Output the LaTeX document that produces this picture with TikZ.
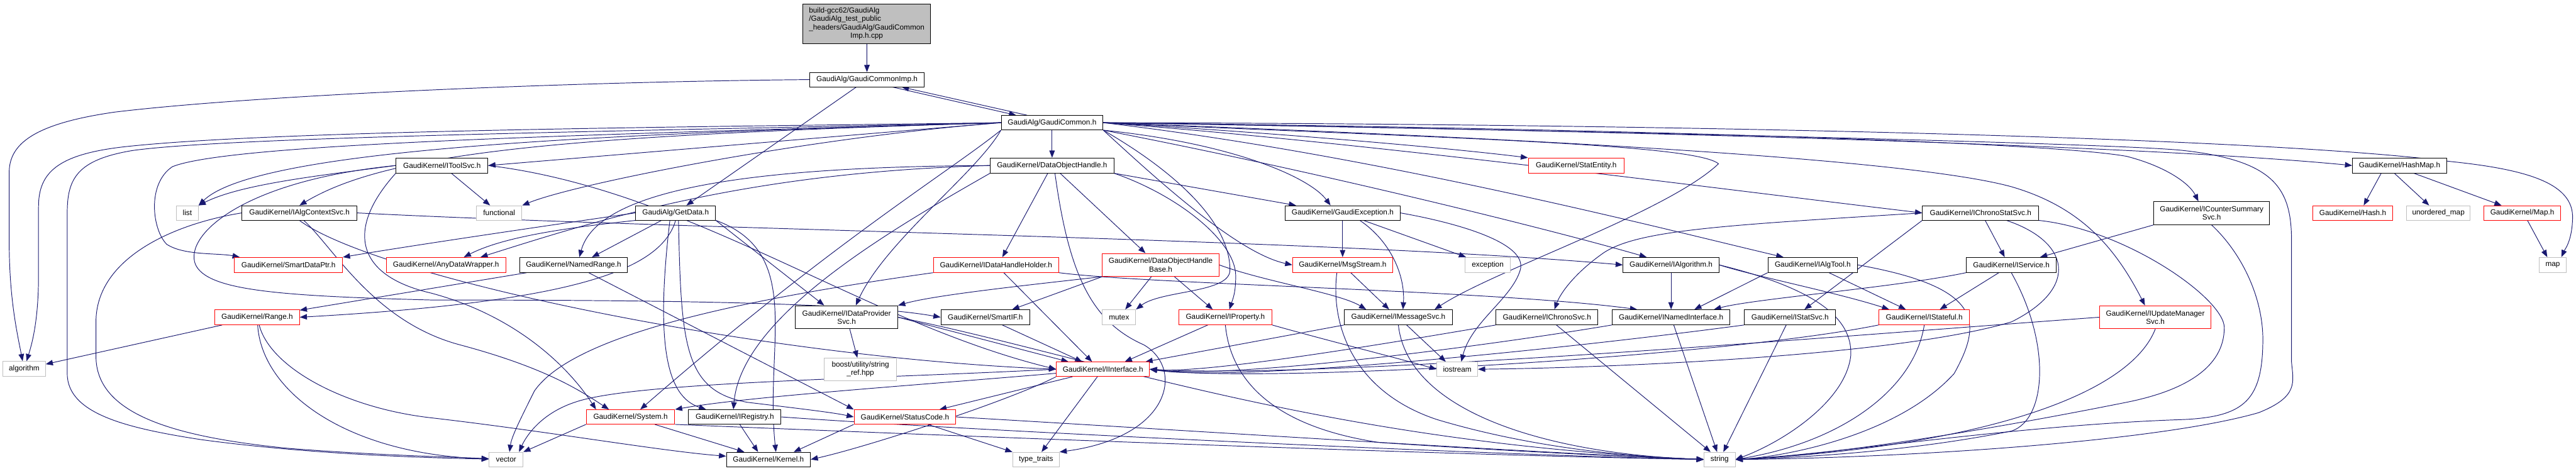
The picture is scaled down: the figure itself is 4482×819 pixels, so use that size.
\documentclass[tikz,border=0pt]{standalone}
\usepackage{fontspec}
\setmainfont{Liberation Sans}
\usetikzlibrary{arrows.meta}
\definecolor{edgec}{HTML}{191970}
\definecolor{greyb}{HTML}{BFBFBF}
\newcommand\fs{\fontsize{7.35}{8.3}\selectfont}
\newcommand\nd[7]{\node[#6,minimum width={(#4-#2)*0.02cm},minimum height={(#5-#3)*0.02cm}] (#1) at ({(#2+#4)/2},{(#3+#5)/2}) {#7};}
\pgfdeclarelayer{bg}
\pgfsetlayers{bg,main}
\tikzset{
  boxk/.style={draw=black,fill=white,line width=0.6pt,inner sep=0pt,font=\fs,align=center,text=black},
  boxr/.style={boxk,draw=red},
  boxg/.style={boxk,draw=greyb},
  boxroot/.style={boxk,fill=greyb},
  e/.style={draw=edgec,line width=0.6pt,-{Triangle[length=0.25cm,width=0.19cm]}}
}
\begin{document}
\begin{tikzpicture}[x=0.02cm,y=-0.02cm]
\useasboundingbox (0,0) rectangle (4482,819);
\nd{src}{1397}{7}{1619}{76}{boxroot}{\begin{tabular}{@{}l@{}}build-gcc62/GaudiAlg\\/GaudiAlg\_test\_public\\\_headers/GaudiAlg/GaudiCommon\\\multicolumn{1}{@{}c@{}}{Imp.h.cpp}\end{tabular}}
\nd{imp}{1409}{126}{1608}{151}{boxk}{GaudiAlg/GaudiCommonImp.h}
\nd{gc}{1742}{201}{1919}{226}{boxk}{GaudiAlg/GaudiCommon.h}
\nd{list}{307}{358}{345}{383}{boxg}{list}
\nd{iacs}{421}{358}{621}{383}{boxk}{GaudiKernel/IAlgContextSvc.h}
\nd{its}{689}{275}{849}{301}{boxk}{GaudiKernel/IToolSvc.h}
\nd{fun}{829}{358}{908}{383}{boxg}{functional}
\nd{gd}{1106}{358}{1245}{383}{boxk}{GaudiAlg/GetData.h}
\nd{doh}{1723}{275}{1938}{301}{boxk}{GaudiKernel/DataObjectHandle.h}
\nd{gex}{2236}{358}{2436}{383}{boxk}{GaudiKernel/GaudiException.h}
\nd{se}{2659}{275}{2826}{301}{boxr}{GaudiKernel/StatEntity.h}
\nd{icss}{3345}{358}{3547}{383}{boxk}{GaudiKernel/IChronoStatSvc.h}
\nd{icsum}{3747}{351}{3949}{391}{boxk}{GaudiKernel/ICounterSummary\\Svc.h}
\nd{hm}{4093}{275}{4257}{301}{boxk}{GaudiKernel/HashMap.h}
\nd{hash}{4024}{358}{4163}{383}{boxr}{GaudiKernel/Hash.h}
\nd{um}{4187}{358}{4298}{383}{boxg}{unordered\_map}
\nd{mp}{4322}{358}{4455}{383}{boxr}{GaudiKernel/Map.h}
\nd{sdp}{408}{448}{596}{474}{boxr}{GaudiKernel/SmartDataPtr.h}
\nd{adw}{672}{448}{880}{474}{boxr}{GaudiKernel/AnyDataWrapper.h}
\nd{rg}{374}{539}{521}{565}{boxr}{GaudiKernel/Range.h}
\nd{alg}{5}{629}{79}{655}{boxg}{algorithm}
\nd{nrg}{904}{448}{1092}{474}{boxk}{GaudiKernel/NamedRange.h}
\nd{idps}{1384}{532}{1562}{572}{boxk}{GaudiKernel/IDataProvider\\Svc.h}
\nd{bsr}{1434}{623}{1560}{662}{boxg}{boost/utility/string\\\_ref.hpp}
\nd{sys}{1020}{713}{1174}{738}{boxr}{GaudiKernel/System.h}
\nd{ireg}{1198}{713}{1359}{738}{boxk}{GaudiKernel/IRegistry.h}
\nd{sc}{1486}{713}{1663}{738}{boxr}{GaudiKernel/StatusCode.h}
\nd{vec}{851}{787}{910}{812}{boxg}{vector}
\nd{ker}{1264}{787}{1410}{812}{boxk}{GaudiKernel/Kernel.h}
\nd{idhh}{1624}{448}{1842}{474}{boxr}{GaudiKernel/IDataHandleHolder.h}
\nd{dohb}{1918}{441}{2121}{481}{boxr}{GaudiKernel/DataObjectHandle\\Base.h}
\nd{ms}{2249}{448}{2423}{474}{boxr}{GaudiKernel/MsgStream.h}
\nd{sif}{1637}{539}{1792}{565}{boxk}{GaudiKernel/SmartIF.h}
\nd{mtx}{1918}{539}{1976}{565}{boxg}{mutex}
\nd{ip}{2051}{539}{2213}{565}{boxr}{GaudiKernel/IProperty.h}
\nd{ii}{1838}{630}{2000}{655}{boxr}{GaudiKernel/IInterface.h}
\nd{tt}{1762}{787}{1843}{812}{boxg}{type\_traits}
\nd{exc}{2549}{448}{2628}{474}{boxg}{exception}
\nd{ialg}{2824}{448}{2991}{474}{boxk}{GaudiKernel/IAlgorithm.h}
\nd{ims}{2339}{539}{2527}{565}{boxk}{GaudiKernel/IMessageSvc.h}
\nd{ios}{2500}{630}{2571}{655}{boxg}{iostream}
\nd{ics}{2603}{539}{2780}{565}{boxk}{GaudiKernel/IChronoSvc.h}
\nd{ini}{2805}{539}{3010}{565}{boxk}{GaudiKernel/INamedInterface.h}
\nd{str}{2965}{787}{3019}{812}{boxg}{string}
\nd{iat}{3076}{448}{3232}{474}{boxk}{GaudiKernel/IAlgTool.h}
\nd{isv}{3421}{448}{3578}{474}{boxk}{GaudiKernel/IService.h}
\nd{iss}{3035}{539}{3194}{565}{boxk}{GaudiKernel/IStatSvc.h}
\nd{istf}{3269}{539}{3427}{565}{boxr}{GaudiKernel/IStateful.h}
\nd{iums}{3653}{532}{3847}{572}{boxr}{GaudiKernel/IUpdateManager\\Svc.h}
\nd{map}{4418}{448}{4465}{474}{boxg}{map}
\begin{pgfonlayer}{bg}
% top
\draw[e] (src) -- (imp);
\draw[e] ([xshift=0.89cm]imp.south) -- ([xshift=-1.25cm]gc.north);
\draw[e] ([xshift=-0.87cm]gc.north) -- ([xshift=1.21cm]imp.south);
\draw[e] (imp) -- (gd);
\draw[e] (imp.west) .. controls (1000,142) and (450,165) .. (200,195) .. controls (60,215) and (16,250) .. (16,300) -- (16,420) .. controls (16,520) and (30,580) .. (alg);
% left side
\draw[e] (gc.west) .. controls (1300,220) and (500,225) .. (220,255) .. controls (100,268) and (67,300) .. (67,360) -- (67,480) .. controls (67,560) and (55,600) .. (alg);
\draw[e] (rg) -- (alg);
\draw[e] (gc.west) .. controls (1100,228) and (400,238) .. (230,262) .. controls (135,278) and (117,310) .. (117,370) -- (117,650) .. controls (117,720) and (220,745) .. (350,765) .. controls (550,792) and (760,797) .. (vec);
\draw[e] (iacs.west) .. controls (300,390) and (167,450) .. (167,560) -- (167,620) .. controls (167,720) and (300,760) .. (500,780) .. controls (650,792) and (780,795) .. (vec);
\draw[e] (rg) .. controls (455,680) and (600,790) .. (vec);
\draw[e] (rg) .. controls (470,640) and (600,710) .. (750,727) .. controls (950,750) and (1150,785) .. (ker);
\draw[e] (nrg) -- (rg);
\draw[e] (gd.south) .. controls (1150,470) and (1000,525) .. (rg.east);
\draw[e] (gc.west) .. controls (1100,232) and (450,255) .. (list.north east);
\draw[e] (its.west) .. controls (560,305) and (420,320) .. (list.north east);
\draw[e] (its.west) .. controls (420,315) and (320,410) .. (340,460) .. controls (360,505) and (480,515) .. (750,522) .. controls (1200,522) and (1500,528) .. (sif.west);
\draw[e] (gc.west) .. controls (1000,236) and (680,262) .. (iacs.north);
\draw[e] (gc.west) -- (its.east);
\draw[e] (its) -- (fun);
\draw[e] (gc.west) .. controls (1400,240) and (1000,320) .. (fun.north east);
\draw[e] (its.south west) .. controls (600,400) and (620,480) .. (750,510) .. controls (900,550) and (990,640) .. ([xshift=-1.2cm]sys.north);
\draw[e] (iacs.-60) .. controls (580,430) and (650,560) .. (800,600) .. controls (950,640) and (1010,680) .. ([xshift=-0.75cm]sys.north);
\draw[e] (gc.south west) .. controls (1650,300) and (1450,420) .. ([xshift=0.34cm]sys.north);
\draw[e] (ii) .. controls (1600,670) and (1300,690) .. (sys.north east);
\draw[e] (gc.west) .. controls (1000,235) and (400,250) .. (300,290) .. controls (255,320) and (265,400) .. (290,425) .. controls (320,445) and (380,440) .. ([xshift=-1.7cm]sdp.north);
\draw[e] (gd.west) .. controls (900,400) and (700,430) .. (sdp.north east);
\draw[e] (gd.south west) .. controls (1000,395) and (880,410) .. ([xshift=0.62cm]adw.north);
\draw[e] (doh.west) .. controls (1300,300) and (1050,380) .. ([xshift=1.2cm]adw.north);
\draw[e] (gd) -- ([xshift=0.64cm]nrg.north);
\draw[e] (doh.west) .. controls (1300,290) and (1040,330) .. ([xshift=0.2cm]nrg.north);
\draw[e] (nrg) -- (sc.north west);
\draw[e] ([xshift=0.1cm]gd.south) .. controls (1185,600) and (1190,680) .. (1300,700) .. controls (1400,712) and (1450,718) .. (sc.west);
\draw[e] ([xshift=-0.2cm]gd.south) .. controls (1140,600) and (1160,690) .. ([xshift=-1.0cm]ireg.north);
\draw[e] (gd.south east) .. controls (1400,440) and (1330,600) .. ([xshift=0.26cm]ker.north);
\draw[e] (doh.south west) .. controls (1550,400) and (1290,550) .. ([xshift=-0.05cm]ireg.north);
% middle
\draw[e] (idhh) -- ([xshift=-0.38cm]ii.north);
\draw[e] (idhh.south east) .. controls (2000,495) and (2600,505) .. ([xshift=-1.18cm]ini.north);
\draw[e] (idhh.south west) .. controls (1300,520) and (1000,580) .. (930,680) .. controls (905,730) and (890,760) .. ([xshift=0.12cm]vec.north);
\draw[e] (ii.west) .. controls (1500,660) and (1100,665) .. (1000,700) .. controls (940,720) and (915,760) .. ([xshift=0.45cm]vec.north);
\draw[e] (sys.south west) -- (vec.north east);
\draw[e] (sys) -- ([xshift=-0.84cm]ker.north);
\draw[e] (ireg) -- ([xshift=-0.36cm]ker.north);
\draw[e] (sc.south west) -- ([xshift=0.88cm]ker.north);
\draw[e] (ii.south west) .. controls (1750,700) and (1500,780) .. (ker.east);
\draw[e] (sc) -- (tt.north west);
\draw[e] (ii) -- (tt);
\draw[e] ([xshift=0.1cm]doh.south) .. controls (1860,480) and (1900,560) .. (1990,600) .. controls (2060,640) and (2040,760) .. (tt.north east);
\draw[e] (ii) -- ([xshift=1.2cm]sc.north);
\draw[e] (ip) -- ([xshift=0.76cm]ii.north);
\draw[e] (sif) -- ([xshift=-0.72cm]ii.north);
\draw[e] (idps.east) -- ([xshift=-1.2cm]ii.north);
\draw[e] (ims.south west) -- ([xshift=1.48cm]ii.north);
\draw[e] (ics.south west) .. controls (2400,600) and (2100,650) .. (ii.east);
\draw[e] (ini.south west) .. controls (2600,600) and (2150,660) .. (ii.east);
\draw[e] (iss.south west) .. controls (2700,610) and (2150,665) .. (ii.east);
\draw[e] (istf.south west) .. controls (3000,620) and (2200,668) .. (ii.east);
\draw[e] (iums.west) .. controls (3200,585) and (2300,660) .. (ii.east);
\draw[e] (its.east) .. controls (1200,330) and (1500,560) .. (ii.west);
\draw[e] (iacs.south) .. controls (650,480) and (1300,620) .. (ii.west);
% to string
\draw[e] (sc.east) .. controls (2000,745) and (2700,790) .. (str.west);
\draw[e] (sys.south east) .. controls (1500,752) and (2500,792) .. (str.west);
\draw[e] (ireg.east) .. controls (1700,750) and (2600,792) .. (str.west);
\draw[e] (idps.east) .. controls (1900,620) and (2300,770) .. (str.west);
\draw[e] (ip.south) .. controls (2140,650) and (2200,740) .. (2400,770) .. controls (2700,790) and (2900,797) .. (str.west);
\draw[e] ([xshift=-0.2cm]ms.south) .. controls (2315,560) and (2350,680) .. (2500,730) .. controls (2700,790) and (2900,797) .. (str.west);
\draw[e] (ims.south) .. controls (2450,720) and (2700,790) .. (str.west);
\draw[e] (ics) -- (str);
\draw[e] (ini) -- (str);
\draw[e] (iss) -- (str);
\draw[e] (istf.south) .. controls (3330,680) and (3200,770) .. (str.east);
\draw[e] (iat.east) .. controls (3450,500) and (3450,560) .. (3400,650) .. controls (3300,760) and (3100,795) .. (str.east);
\draw[e] (isv.south) .. controls (3570,600) and (3560,730) .. (3500,750) .. controls (3300,790) and (3100,797) .. (str.east);
\draw[e] (ialg.east) .. controls (3150,500) and (3225,550) .. (3220,620) .. controls (3210,700) and (3100,770) .. (str.east);
\draw[e] (iums.south) .. controls (3700,700) and (3400,780) .. (str.east);
\draw[e] (icsum.south) .. controls (3900,440) and (3940,520) .. (3937,600) .. controls (3935,700) and (3900,725) .. (3800,730) .. controls (3500,740) and (3200,790) .. (str.east);
\draw[e] (icss.south east) .. controls (3700,400) and (3870,520) .. (3870,570) .. controls (3870,640) and (3800,680) .. (3700,700) .. controls (3400,760) and (3150,795) .. (str.east);
\draw[e] (gc.east) .. controls (2800,228) and (3700,250) .. (3800,262) .. controls (3960,280) and (3987,330) .. (3987,420) -- (3987,630) .. controls (3990,665) and (4000,690) .. (3930,718) .. controls (3750,770) and (3300,797) .. (str.east);
% interfaces
\draw[e] (ialg) -- (ini);
\draw[e] (ialg.east) .. controls (3050,480) and (3200,510) .. ([xshift=-1.22cm]istf.north);
\draw[e] (iat.south west) -- ([xshift=0.81cm]ini.north);
\draw[e] (isv.south west) .. controls (3300,500) and (3050,520) .. ([xshift=1.49cm]ini.north);
\draw[e] (isv) -- ([xshift=0.54cm]istf.north);
\draw[e] (iat) -- ([xshift=-0.64cm]istf.north);
\draw[e] ([xshift=0.16cm]icss.south) -- ([xshift=-0.23cm]isv.north);
\draw[e] (icsum.south west) -- ([xshift=1.0cm]isv.north);
\draw[e] (icss.south west) -- ([xshift=0.5cm]iss.north);
\draw[e] (icss.west) .. controls (3000,392) and (2850,400) .. (2790,440) .. controls (2740,475) and (2715,510) .. ([xshift=0.26cm]ics.north);
\draw[e] (iacs.east) .. controls (1200,400) and (2300,415) .. (ialg.west);
\draw[e] (gc.south east) .. controls (2300,300) and (2700,400) .. ([xshift=-0.85cm]ialg.north);
\draw[e] (gc.east) .. controls (2400,270) and (2900,400) .. ([xshift=-1.02cm]iat.north);
\draw[e] (gc.east) .. controls (2500,240) and (2950,250) .. (2990,285) .. controls (2900,370) and (2600,470) .. ([xshift=1.26cm]ims.north);
\draw[e] (gc.south east) .. controls (2000,300) and (2150,440) .. (ms.west);
\draw[e] (gc.south east) .. controls (2030,290) and (2140,380) .. (2140,470) .. controls (2140,510) and (2020,505) .. (mtx.north east);
\draw[e] (doh.south east) .. controls (2050,340) and (2150,420) .. (2150,480) .. controls (2150,510) and (2145,520) .. ([xshift=0.14cm]ip.north);
\draw[e] (dohb) -- ([xshift=-0.44cm]ip.north);
\draw[e] (dohb) -- (mtx);
\draw[e] (dohb.south west) -- ([xshift=0.93cm]sif.north);
\draw[e] (dohb.south west) .. controls (1750,500) and (1620,515) .. (idps.north east);
\draw[e] (dohb.east) .. controls (2200,490) and (2330,510) .. ([xshift=-1.12cm]ims.north);
\draw[e] ([xshift=-0.15cm]doh.south) -- ([xshift=0.22cm]idhh.north);
\draw[e] ([xshift=0.28cm]doh.south) -- ([xshift=-0.53cm]dohb.north);
\draw[e] (doh.south east) -- ([xshift=-1.62cm]gex.north);
\draw[e] (gc.south east) .. controls (2150,250) and (2280,310) .. ([xshift=-0.42cm]gex.north);
\draw[e] (gc) -- (doh);
\draw[e] (gc.east) .. controls (2200,230) and (2500,255) .. (se.north west);
\draw[e] (gc.east) .. controls (2400,250) and (3000,330) .. (icss.west);
\draw[e] (gc.east) .. controls (2700,222) and (3550,245) .. (3700,272) .. controls (3770,290) and (3810,320) .. ([xshift=-0.46cm]icsum.north);
\draw[e] (gc.east) .. controls (2700,225) and (3700,250) .. (hm.west);
\draw[e] (gc.east) .. controls (2800,215) and (3900,235) .. (4263,281) .. controls (4400,295) and (4478,320) .. (4476,380) .. controls (4475,420) and (4462,435) .. ([xshift=0.3cm]map.north);
\draw[e] (gc.east) .. controls (2500,235) and (3300,270) .. (3500,325) .. controls (3620,360) and (3680,430) .. ([xshift=-0.36cm]iums.north);
\draw[e] ([xshift=-0.64cm]hm.south) -- ([xshift=0.38cm]hash.north);
\draw[e] ([xshift=-0.18cm]hm.south) -- ([xshift=-0.32cm]um.north);
\draw[e] ([xshift=0.5cm]hm.south) -- ([xshift=-0.72cm]mp.north);
\draw[e] ([xshift=0.18cm]mp.south) -- ([xshift=-0.19cm]map.north);
\draw[e] (gc.south west) .. controls (1700,300) and (1540,420) .. ([xshift=0.32cm]idps.north);
\draw[e] (gd.south east) -- ([xshift=-0.78cm]idps.north);
\draw[e] (idps) -- (bsr);
\draw[e] (ms) -- ([xshift=-0.32cm]ims.north);
\draw[e] ([xshift=0.6cm]gex.south) .. controls (2420,420) and (2445,480) .. ([xshift=0.16cm]ims.north);
\draw[e] (gex) -- (ms);
\draw[e] (gex) -- (exc);
\draw[e] (gex.east) .. controls (2520,385) and (2660,420) .. (2645,470) .. controls (2630,520) and (2560,560) .. ([xshift=0.14cm]ios.north);
\draw[e] (ims) -- ([xshift=-0.4cm]ios.north);
\draw[e] (ip.south east) .. controls (2300,590) and (2420,620) .. (ios.west);
\draw[e] ([xshift=0.9cm]icss.south) .. controls (3600,420) and (3620,500) .. (3500,560) .. controls (3300,620) and (2800,640) .. (ios.east);
\end{pgfonlayer}
\end{tikzpicture}
\end{document}
